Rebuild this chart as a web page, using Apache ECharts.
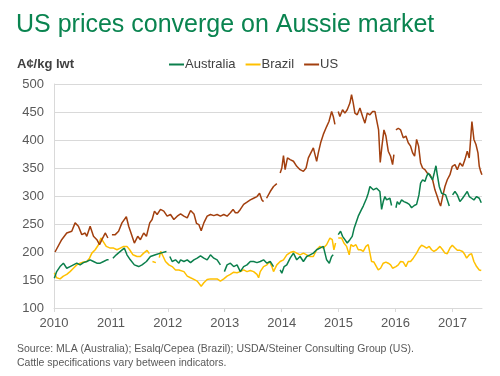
<!DOCTYPE html>
<html>
<head>
<meta charset="utf-8">
<script src="https://cdn.jsdelivr.net/npm/echarts@6/dist/echarts.min.js"></script>
<style>
  html, body { margin: 0; padding: 0; background: #fff; }
  #chart { width: 500px; height: 376px; }
</style>
</head>
<body>
<div id="chart"></div>
<script>
// Weekly-ish cattle prices, A¢/kg lwt. [decimal year, value]; '-' marks a gap.
const yearTicks = [2010, 2011, 2012, 2013, 2014, 2015, 2016, 2017]

const australia = [
  [2010.006, 153], [2010.047, 165], [2010.106, 174], [2010.165, 180], [2010.224, 171], [2010.282, 174],
  [2010.341, 177], [2010.4, 180], [2010.459, 177], [2010.518, 181], [2010.576, 183], [2010.635, 186],
  [2010.694, 183], [2010.753, 180], [2010.812, 180], [2010.871, 183], [2010.929, 186], [2010.959, 186],
  [2010.99, '-'],
  [2011.035, 189], [2011.094, 195], [2011.165, 201], [2011.235, 207], [2011.282, 195], [2011.341, 186],
  [2011.412, 177], [2011.488, 174], [2011.547, 177], [2011.624, 183], [2011.694, 192], [2011.782, 195],
  [2011.871, 198], [2011.976, 201],
  [2012.0, '-'],
  [2012.035, 192], [2012.076, 183], [2012.135, 186], [2012.194, 180], [2012.224, 186], [2012.283, 183],
  [2012.341, 186], [2012.399, 181], [2012.458, 186], [2012.516, 189], [2012.574, 193], [2012.633, 189],
  [2012.691, 186], [2012.749, 195], [2012.808, 189], [2012.866, 186], [2012.924, 177],
  [2012.95, '-'],
  [2012.994, 165], [2013.041, 177], [2013.099, 180], [2013.157, 174], [2013.216, 177], [2013.274, 165],
  [2013.332, 174], [2013.391, 177], [2013.449, 183], [2013.507, 183], [2013.566, 181], [2013.624, 183],
  [2013.682, 186], [2013.741, 180], [2013.799, 183], [2013.857, 174],
  [2013.92, '-'],
  [2013.974, 168], [2014.003, 162], [2014.044, 174], [2014.09, 177], [2014.149, 189], [2014.207, 198],
  [2014.265, 186], [2014.324, 192], [2014.382, 183], [2014.44, 192], [2014.499, 195], [2014.557, 198],
  [2014.615, 204], [2014.673, 207], [2014.732, 210], [2014.79, 186], [2014.837, 180], [2014.877, 192],
  [2014.906, 195],
  [2014.96, '-'],
  [2014.994, 231], [2015.035, 237], [2015.07, 228], [2015.111, 222], [2015.152, 216], [2015.199, 222],
  [2015.24, 228], [2015.275, 243], [2015.316, 255], [2015.346, 264], [2015.375, 264], [2015.404, 276],
  [2015.434, 282], [2015.463, 279], [2015.492, 296], [2015.521, 305], [2015.551, 317], [2015.58, 320],
  [2015.609, 311], [2015.639, 314], [2015.668, 314], [2015.697, 317], [2015.726, 308], [2015.756, 276],
  [2015.785, 290], [2015.814, 299], [2015.844, 293], [2015.873, 296], [2015.902, 296], [2015.931, 283],
  [2015.97, '-'],
  [2016.008, 279], [2016.031, 290], [2016.066, 285], [2016.107, 293], [2016.148, 290], [2016.195, 288],
  [2016.242, 285], [2016.283, 279], [2016.33, 283], [2016.371, 285], [2016.412, 302], [2016.441, 323],
  [2016.476, 329], [2016.517, 326], [2016.547, 335], [2016.576, 341], [2016.605, 338], [2016.652, 329],
  [2016.681, 341], [2016.711, 354], [2016.734, 338], [2016.769, 317], [2016.81, 305], [2016.84, 302],
  [2016.881, 302], [2016.916, 299], [2016.945, 282],
  [2016.97, '-'],
  [2017.003, 302], [2017.045, 308], [2017.086, 302], [2017.132, 290], [2017.179, 296], [2017.22, 302],
  [2017.261, 308], [2017.296, 299], [2017.337, 296], [2017.378, 293], [2017.425, 299], [2017.472, 296],
  [2017.507, 288]
]

const brazil = [
  [2010.006, 163], [2010.047, 154], [2010.106, 152], [2010.165, 157], [2010.224, 160], [2010.282, 165],
  [2010.341, 171], [2010.4, 177], [2010.459, 180], [2010.518, 182], [2010.576, 183], [2010.624, 189],
  [2010.665, 198], [2010.724, 204], [2010.782, 213], [2010.824, 225], [2010.859, 228], [2010.882, 216],
  [2010.918, 210], [2010.988, 207], [2011.047, 207], [2011.106, 204], [2011.165, 207], [2011.224, 210],
  [2011.282, 210], [2011.329, 204], [2011.388, 195], [2011.459, 192], [2011.518, 192], [2011.576, 198],
  [2011.635, 203], [2011.675, 197],
  [2011.7, '-'],
  [2011.73, 183], [2011.79, 181],
  [2011.82, '-'],
  [2011.85, 190], [2011.875, 201], [2011.918, 192], [2011.959, 183], [2012.018, 177], [2012.076, 174],
  [2012.135, 168], [2012.194, 168], [2012.283, 165], [2012.341, 157], [2012.399, 154], [2012.458, 151],
  [2012.516, 148], [2012.586, 139], [2012.633, 145], [2012.691, 151], [2012.749, 152], [2012.808, 152],
  [2012.866, 152], [2012.924, 148], [2012.983, 152], [2013.041, 157], [2013.099, 160], [2013.157, 164],
  [2013.216, 163], [2013.274, 165], [2013.332, 168], [2013.391, 165], [2013.449, 167], [2013.507, 165],
  [2013.566, 160], [2013.595, 154], [2013.624, 165], [2013.682, 174], [2013.741, 177], [2013.787, 183],
  [2013.828, 174], [2013.857, 165], [2013.915, 177], [2013.974, 183], [2014.032, 186], [2014.09, 195],
  [2014.149, 199], [2014.207, 201], [2014.265, 198], [2014.324, 195], [2014.382, 198], [2014.44, 195],
  [2014.499, 192], [2014.557, 192], [2014.615, 204], [2014.673, 210], [2014.731, 207], [2014.789, 213],
  [2014.848, 225], [2014.889, 222], [2014.918, 204], [2014.947, 216],
  [2014.97, '-'],
  [2014.994, 225], [2015.023, 228], [2015.053, 225], [2015.094, 216], [2015.141, 210], [2015.187, 195],
  [2015.217, 213], [2015.258, 210], [2015.305, 213], [2015.346, 204], [2015.387, 204], [2015.434, 201],
  [2015.48, 210], [2015.521, 213], [2015.551, 198], [2015.58, 183], [2015.621, 182], [2015.656, 180],
  [2015.697, 168], [2015.738, 171], [2015.785, 180], [2015.832, 182], [2015.873, 180], [2015.914, 177],
  [2015.949, 171], [2016.008, 174], [2016.049, 177], [2016.09, 183], [2016.137, 182], [2016.183, 174],
  [2016.224, 183], [2016.265, 183], [2016.312, 189], [2016.371, 198], [2016.418, 207], [2016.459, 212],
  [2016.5, 210], [2016.547, 207], [2016.593, 210], [2016.634, 204], [2016.675, 201], [2016.722, 204],
  [2016.781, 210], [2016.828, 204], [2016.869, 198], [2016.91, 197], [2016.957, 207], [2016.998, 212],
  [2017.045, 207], [2017.086, 203], [2017.132, 203], [2017.179, 201], [2017.22, 195], [2017.25, 189],
  [2017.296, 195], [2017.337, 197], [2017.378, 183], [2017.425, 174], [2017.472, 168], [2017.507, 167]
]

const us = [
  [2010.018, 200], [2010.135, 222], [2010.224, 234], [2010.312, 237], [2010.371, 252], [2010.429, 246],
  [2010.488, 231], [2010.547, 234], [2010.576, 228], [2010.635, 246], [2010.694, 228], [2010.753, 222],
  [2010.8, 213], [2010.841, 222], [2010.871, 228], [2010.9, 234], [2010.947, 225],
  [2010.98, '-'],
  [2011.018, 231], [2011.076, 231], [2011.135, 237], [2011.194, 252], [2011.271, 263], [2011.312, 246],
  [2011.353, 234], [2011.412, 216], [2011.471, 228], [2011.518, 222], [2011.576, 234], [2011.624, 228],
  [2011.682, 252], [2011.724, 258], [2011.765, 273], [2011.812, 267], [2011.871, 276], [2011.929, 273],
  [2011.988, 264], [2012.047, 267], [2012.106, 258], [2012.165, 264], [2012.224, 268], [2012.282, 264],
  [2012.341, 261], [2012.4, 274], [2012.459, 268], [2012.504, 251], [2012.545, 249], [2012.586, 238],
  [2012.633, 252], [2012.691, 264], [2012.749, 267], [2012.808, 265], [2012.866, 267], [2012.924, 264],
  [2012.983, 267], [2013.041, 264], [2013.099, 270], [2013.146, 276], [2013.187, 270], [2013.227, 270],
  [2013.274, 276], [2013.332, 285], [2013.391, 289], [2013.449, 293], [2013.507, 296], [2013.566, 299],
  [2013.612, 305], [2013.653, 293], [2013.682, 290],
  [2013.7, '-'],
  [2013.735, 296], [2013.799, 308], [2013.857, 317], [2013.915, 322], [2013.927, 322],
  [2013.95, '-'],
  [2013.974, 341], [2014.003, 350], [2014.032, 372], [2014.061, 347], [2014.102, 368], [2014.149, 365],
  [2014.207, 362], [2014.265, 353], [2014.324, 347], [2014.382, 344], [2014.429, 350], [2014.469, 368],
  [2014.528, 380], [2014.557, 386], [2014.586, 374], [2014.615, 362], [2014.644, 377], [2014.685, 395],
  [2014.732, 410], [2014.79, 424], [2014.831, 433], [2014.878, 451], [2014.907, 442], [2014.936, 428],
  [2014.965, '-'],
  [2014.994, 451], [2015.023, 442], [2015.07, 454], [2015.111, 448], [2015.152, 454], [2015.199, 466],
  [2015.228, 481], [2015.258, 466], [2015.287, 448], [2015.328, 445], [2015.375, 457], [2015.422, 442],
  [2015.463, 430], [2015.504, 448], [2015.551, 445], [2015.598, 451], [2015.639, 451], [2015.668, 436],
  [2015.703, 418], [2015.732, 360], [2015.762, 389], [2015.797, 418], [2015.832, 407], [2015.873, 380],
  [2015.914, 371], [2015.949, 356], [2015.972, 374],
  [2015.99, '-'],
  [2016.008, 418], [2016.049, 421], [2016.09, 418], [2016.137, 404], [2016.183, 407], [2016.224, 395],
  [2016.265, 389], [2016.301, 377], [2016.336, 371], [2016.371, 401], [2016.406, 389], [2016.441, 359],
  [2016.476, 350], [2016.517, 347], [2016.558, 341], [2016.605, 338], [2016.652, 329], [2016.693, 311],
  [2016.734, 299], [2016.769, 288], [2016.793, 282], [2016.828, 299], [2016.869, 317], [2016.91, 329],
  [2016.957, 338], [2016.998, 353], [2017.045, 356], [2017.086, 347], [2017.132, 359], [2017.179, 353],
  [2017.22, 365], [2017.261, 380], [2017.296, 368], [2017.343, 433], [2017.378, 401], [2017.414, 392],
  [2017.449, 377], [2017.472, 353], [2017.496, 344], [2017.519, 338]
]

const seriesNames = ['Australia', 'Brazil', 'US']
const seriesColors = ['#0b7f4c', '#ffc000', '#a23f0e']
const seriesData = [australia, brazil, us]

const FONT = '"Liberation Sans", Arial, sans-serif'
const chart = echarts.init(document.getElementById('chart'), null, { renderer: 'canvas' })

chart.setOption({
  animation: false,
  backgroundColor: '#fff',
  textStyle: { fontFamily: FONT },
  title: [
    { text: 'US prices converge on Aussie market', left: 11, top: 8,
      textStyle: { color: '#0a8450', fontSize: 25, fontWeight: 'normal', fontFamily: FONT } },
    { text: 'A¢/kg lwt', left: 12, top: 53,
      textStyle: { color: '#404040', fontSize: 13, fontWeight: 'bold', fontFamily: FONT } },
    { text: 'Source: MLA (Australia); Esalq/Cepea (Brazil); USDA/Steiner Consulting Group (US).\nCattle specifications vary between indicators.',
      left: 12, top: 337,
      textStyle: { color: '#595959', fontSize: 10.5, fontWeight: 'normal', lineHeight: 14, fontFamily: FONT } }
  ],
  legend: {
    left: 164, top: 53, itemWidth: 15, itemHeight: 2, itemGap: 10,
    icon: 'rect',
    data: seriesNames,
    textStyle: { color: '#404040', fontSize: 13, padding: [0, 0, 0, -4], fontFamily: FONT }
  },
  grid: { left: 54, right: 18, top: 84, bottom: 68 },
  xAxis: {
    type: 'value', min: 2010, max: 2017.52,
    axisLine: { lineStyle: { color: '#d9d9d9' } },
    axisTick: { show: true, length: 4, lineStyle: { color: '#d9d9d9' }, customValues: yearTicks },
    axisLabel: { color: '#595959', fontSize: 13, margin: 9, customValues: yearTicks, formatter: v => String(v) },
    splitLine: { show: false }
  },
  yAxis: {
    type: 'value', min: 100, max: 500, interval: 50,
    axisLine: { show: true, lineStyle: { color: '#d9d9d9' } },
    axisTick: { show: false },
    axisLabel: { color: '#595959', fontSize: 13, margin: 10 },
    splitLine: { lineStyle: { color: '#d9d9d9' } }
  },
  series: seriesNames.map((name, i) => ({
    name,
    type: 'line',
    data: seriesData[i],
    showSymbol: false,
    connectNulls: false,
    color: seriesColors[i],
    lineStyle: { width: 1.5, color: seriesColors[i] },
    z: i === 0 ? 3 : 2
  }))
})
</script>
</body>
</html>
